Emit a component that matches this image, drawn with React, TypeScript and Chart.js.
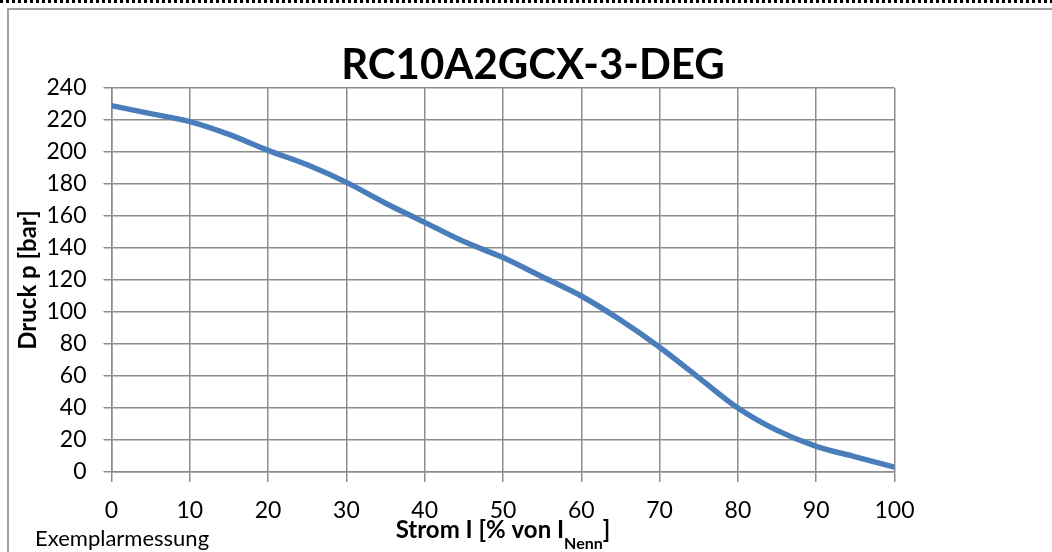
import React, { useEffect, useRef } from "react";
import { Chart, registerables } from "chart.js";

Chart.register(...registerables);

const chartTitle = "RC10A2GCX-3-DEG";
const yTitle = "Druck p [bar]";
const xTitleMain = "Strom I [% von I";
const xTitleSub = "Nenn";
const xTitleEnd = "]";
const footNote = "Exemplarmessung";

const currentPct = [0, 5, 10, 15, 20, 25, 30, 35, 40, 45, 50, 55, 60, 65, 70, 75, 80, 85, 90, 95, 100];
const pressureBar = [229, 224, 219, 211, 201, 192, 181, 168, 156, 144, 134, 122, 110, 95, 78, 59, 40, 26, 16, 9.5, 3];

const xMin = 0;
const xMax = 100;
const xStep = 10;
const yMin = 0;
const yMax = 240;
const yStep = 20;

const W = 1052;
const H = 552;

const decorPlugin = {
  id: "decor",
  beforeDraw(chart: any) {
    const ctx = chart.ctx;
    ctx.save();
    ctx.fillStyle = "#ffffff";
    ctx.fillRect(0, 0, W, H);
    ctx.strokeStyle = "#000000";
    ctx.lineWidth = 3;
    ctx.setLineDash([3, 3]);
    ctx.beginPath();
    ctx.moveTo(0, 1.5);
    ctx.lineTo(W, 1.5);
    ctx.stroke();
    ctx.setLineDash([]);
    ctx.strokeStyle = "#a0a0a0";
    ctx.lineWidth = 2;
    ctx.beginPath();
    ctx.moveTo(8, H);
    ctx.lineTo(8, 9);
    ctx.lineTo(W, 9);
    ctx.stroke();
    ctx.restore();
  },
  afterDraw(chart: any) {
    const ctx = chart.ctx;
    const area = chart.chartArea;
    ctx.save();
    ctx.fillStyle = "#000000";
    ctx.font = "bold 42px Lato";
    ctx.textAlign = "center";
    ctx.textBaseline = "alphabetic";
    ctx.fillText(chartTitle, 533, 79);
    ctx.save();
    ctx.translate(36, (area.top + area.bottom) / 2);
    ctx.rotate(-Math.PI / 2);
    ctx.font = "bold 24px Lato";
    ctx.textAlign = "center";
    ctx.fillText(yTitle, 0, 0);
    ctx.restore();
    const mainFont = "bold 24px Lato";
    const subFont = "bold 16px Lato";
    ctx.font = mainFont;
    const w1 = ctx.measureText(xTitleMain).width;
    const w3 = ctx.measureText(xTitleEnd).width;
    ctx.font = subFont;
    const w2 = ctx.measureText(xTitleSub).width;
    const total = w1 + w2 + w3;
    const cx = (area.left + area.right) / 2;
    const x0 = cx - total / 2;
    ctx.textAlign = "left";
    ctx.font = mainFont;
    ctx.fillText(xTitleMain, x0, 538);
    ctx.font = subFont;
    ctx.fillText(xTitleSub, x0 + w1, 549);
    ctx.font = mainFont;
    ctx.fillText(xTitleEnd, x0 + w1 + w2, 538);
    ctx.font = "22px Lato";
    ctx.fillText(footNote, 35, 546);
    ctx.restore();
  },
};

export default function App() {
  const ref = useRef<HTMLCanvasElement | null>(null);
  useEffect(() => {
    if (!ref.current) return;
    const points = currentPct.map((x, i) => ({ x, y: pressureBar[i] }));
    const gridColor = "#8c8c8c";
    const chart = new Chart(ref.current, {
      type: "line",
      data: {
        datasets: [
          {
            data: points,
            borderColor: "#4a7ebb",
            borderWidth: 5.5,
            pointRadius: 0,
            cubicInterpolationMode: "monotone",
            fill: false,
            borderCapStyle: "round",
          },
        ],
      },
      plugins: [decorPlugin],
      options: {
        animation: false,
        responsive: false,
        devicePixelRatio: 1,
        layout: { padding: { left: 0, right: 157.5, top: 88, bottom: 0 } },
        plugins: { legend: { display: false }, tooltip: { enabled: false }, title: { display: false } },
        scales: {
          x: {
            type: "linear",
            min: xMin,
            max: xMax,
            afterFit(scale: any) {
              scale.height = 80;
            },
            ticks: {
              stepSize: xStep,
              color: "#000000",
              font: { family: "Lato", size: 23 },
              padding: 15,
              maxRotation: 0,
            },
            grid: { color: gridColor, lineWidth: 1.5, tickLength: 10, drawTicks: true },
            border: { color: gridColor, width: 1.5 },
          },
          y: {
            type: "linear",
            min: yMin,
            max: yMax,
            afterFit(scale: any) {
              scale.width = 111.5;
            },
            ticks: {
              stepSize: yStep,
              color: "#000000",
              font: { family: "Lato", size: 23 },
              padding: 17,
            },
            grid: { color: gridColor, lineWidth: 1.5, tickLength: 8, drawTicks: true },
            border: { color: gridColor, width: 1.5 },
          },
        },
      },
    } as any);
    return () => chart.destroy();
  }, []);
  return (
    <div style={{ position: "fixed", left: 0, top: 0, width: W, height: H, background: "#fff" }}>
      <canvas ref={ref} width={W} height={H} style={{ width: W, height: H, display: "block" }} />
    </div>
  );
}
